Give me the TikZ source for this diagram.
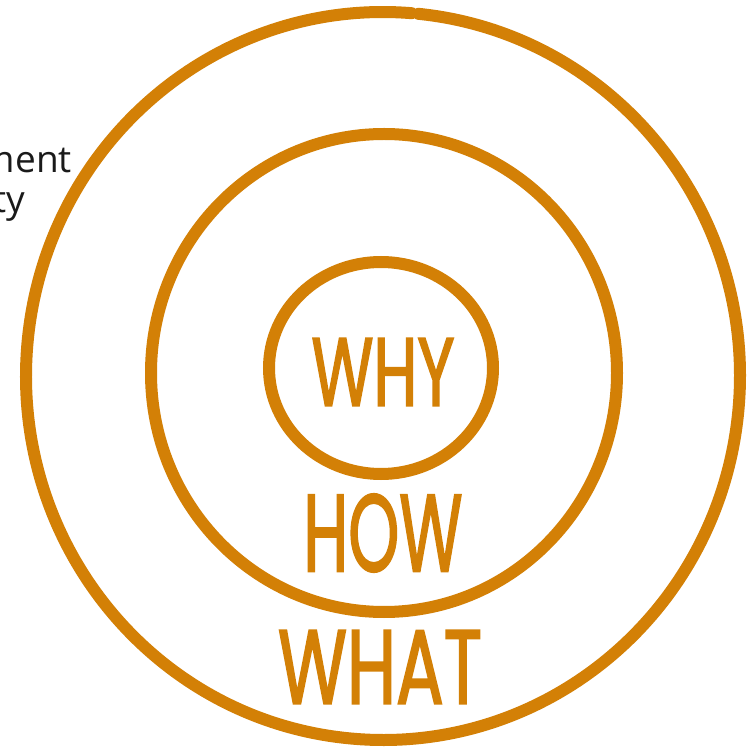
\documentclass[tikz,border=0pt]{standalone}
\usepackage{fontspec}
\usepackage{graphicx}
\setmainfont{Open Sans}
\newfontfamily\handfont[FakeBold=2.2]{Poppins}
\definecolor{ochre}{RGB}{211,128,6}
\definecolor{inktext}{RGB}{26,26,26}
\tikzset{
  ring/.style={draw=ochre, line width=12pt, line cap=round},
  word/.style={inner sep=0pt, text=ochre, font=\handfont},
  sidetext/.style={inner sep=0pt, text=inktext, font=\fontsize{37}{40}\selectfont}
}
\begin{document}
\begin{tikzpicture}[x=1pt, y=-1pt]
  \useasboundingbox[fill=white] (0,0) rectangle (756,751);

  % outer ring, open at the top
  \draw[ring] ([shift={(383,376)}]-84.3:357 and 364)
    arc[start angle=-84.3, end angle=274.6, x radius=357, y radius=364];
  % middle ring
  \draw[ring] (384,373) ellipse[x radius=233, y radius=239];
  % inner ring
  \draw[ring] (381,368) ellipse[x radius=112, y radius=106];

  % labels
  \node[word] (why)  at (383,372) {\resizebox{143pt}{67pt}{WHY}};
  \node[word] (how)  at (383,533) {\resizebox{159pt}{77pt}{HOW}};
  \node[word] (what) at (380,667) {\resizebox{204pt}{73pt}{WHAT}};

  % side caption, running off the left edge
  \node[sidetext, anchor=base east] (cap1) at (72,173) {ment};
  \node[sidetext, anchor=base east] (cap2) at (25,213) {ty};
\end{tikzpicture}
\end{document}
